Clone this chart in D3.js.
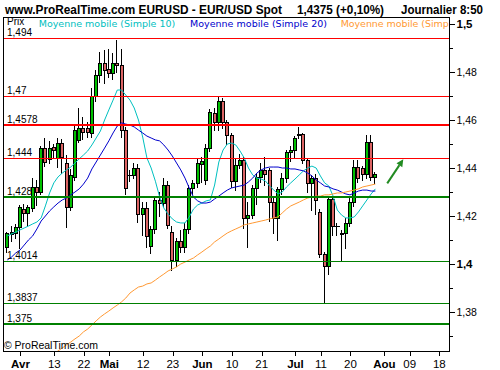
<!DOCTYPE html>
<html><head><meta charset="utf-8">
<script src="https://cdn.jsdelivr.net/npm/d3@7"></script>
<style>body{margin:0;background:#fff}svg{display:block}</style>
</head><body><svg id="c" width="500" height="370"></svg>
<script>
// ---------- DATA ----------
const dates = ["03-29","03-30","03-31","04-01","04-04","04-05","04-06","04-07","04-08","04-11","04-12","04-13","04-14","04-15","04-18","04-19","04-20","04-21","04-22","04-25","04-26","04-27","04-28","04-29","05-02","05-03","05-04","05-05","05-06","05-09","05-10","05-11","05-12","05-13","05-16","05-17","05-18","05-19","05-20","05-23","05-24","05-25","05-26","05-27","05-30","05-31","06-01","06-02","06-03","06-06","06-07","06-08","06-09","06-10","06-13","06-14","06-15","06-16","06-17","06-20","06-21","06-22","06-23","06-24","06-27","06-28","06-29","06-30","07-01","07-04","07-05","07-06","07-07","07-08","07-11","07-12","07-13","07-14","07-15","07-18","07-19","07-20","07-21","07-22","07-25","07-26","07-27","07-28"];
const open = [1.4072,1.4125,1.4130,1.4155,1.4228,1.4211,1.4232,1.4322,1.4301,1.4482,
1.4437,1.4487,1.4440,1.4503,1.4420,1.4236,1.4364,1.4517,1.4565,1.4565,
1.4547,1.4700,1.4788,1.4839,1.4811,1.4797,1.4839,1.4829,1.4558,1.4371,
1.4371,1.4399,1.4208,1.4232,1.4075,1.4144,1.4267,1.4255,1.4329,1.4135,
1.4017,1.4096,1.4072,1.4144,1.4315,1.4336,1.4415,1.4350,1.4482,1.4628,
1.4593,1.4679,1.4593,1.4537,1.4345,1.4412,1.4433,1.4190,1.4204,1.4315,
1.4364,1.4392,1.4392,1.4260,1.4190,1.4311,1.4357,1.4465,1.4475,1.4540,
1.4540,1.4433,1.4336,1.4360,1.4218,1.4042,1.3992,1.4269,1.4158,1.4128,
1.4128,1.4170,1.4260,1.4405,1.4401,1.4375,1.4507,1.4361];
const high = [1.4135,1.4160,1.4165,1.4245,1.4250,1.4245,1.4357,1.4350,1.4490,1.4524,
1.4514,1.4500,1.4524,1.4520,1.4454,1.4395,1.4580,1.4649,1.4614,1.4590,
1.4733,1.4810,1.4885,1.4890,1.4895,1.4880,1.4933,1.4896,1.4570,1.4392,
1.4422,1.4417,1.4260,1.4260,1.4160,1.4280,1.4300,1.4360,1.4345,1.4160,
1.4110,1.4140,1.4170,1.4330,1.4350,1.4440,1.4445,1.4500,1.4645,1.4650,
1.4694,1.4690,1.4600,1.4545,1.4440,1.4460,1.4445,1.4260,1.4330,1.4380,
1.4420,1.4447,1.4400,1.4280,1.4320,1.4380,1.4475,1.4490,1.4535,1.4572,
1.4545,1.4440,1.4370,1.4375,1.4228,1.4050,1.4275,1.4280,1.4170,1.4140,
1.4190,1.4275,1.4433,1.4433,1.4410,1.4537,1.4537,1.4385];
const low = [1.4051,1.4095,1.4110,1.4065,1.4180,1.4160,1.4220,1.4246,1.4290,1.4410,
1.4420,1.4440,1.4405,1.4380,1.4155,1.4225,1.4350,1.4510,1.4520,1.4530,
1.4530,1.4680,1.4760,1.4755,1.4780,1.4770,1.4800,1.4530,1.4290,1.4345,
1.4360,1.4176,1.4120,1.4072,1.4047,1.4130,1.4200,1.4240,1.4150,1.3975,
1.3990,1.4050,1.4050,1.4130,1.4290,1.4320,1.4340,1.4335,1.4470,1.4558,
1.4558,1.4565,1.4500,1.4320,1.4310,1.4400,1.4150,1.4072,1.4190,1.4250,
1.4340,1.4330,1.4180,1.4130,1.4100,1.4290,1.4340,1.4430,1.4440,1.4525,
1.4420,1.4300,1.4225,1.4208,1.4030,1.3839,1.3960,1.4120,1.4120,1.4017,
1.4068,1.4160,1.4240,1.4340,1.4350,1.4360,1.4350,1.4336];
const close = [1.4128,1.4132,1.4155,1.4236,1.4211,1.4236,1.4322,1.4301,1.4482,1.4426,
1.4482,1.4476,1.4503,1.4447,1.4236,1.4370,1.4558,1.4565,1.4551,1.4551,
1.4700,1.4788,1.4839,1.4808,1.4797,1.4839,1.4829,1.4560,1.4315,1.4372,
1.4399,1.4208,1.4232,1.4117,1.4144,1.4267,1.4255,1.4329,1.4163,1.4017,
1.4096,1.4072,1.4144,1.4315,1.4336,1.4420,1.4430,1.4482,1.4635,1.4593,
1.4679,1.4593,1.4537,1.4345,1.4412,1.4433,1.4190,1.4204,1.4315,1.4364,
1.4390,1.4375,1.4260,1.4190,1.4311,1.4357,1.4465,1.4475,1.4524,1.4539,
1.4433,1.4336,1.4360,1.4267,1.4042,1.3992,1.4269,1.4158,1.4157,1.4125,
1.4170,1.4260,1.4405,1.4357,1.4375,1.4507,1.4361,1.4374];
const ma10 = [1.4117,1.4125,1.4133,1.4142,1.4150,1.4158,1.4167,1.4175,1.4192,1.4242,
1.4296,1.4338,1.4363,1.4379,1.4392,1.4404,1.4421,1.4438,1.4454,1.4471,
1.4496,1.4525,1.4554,1.4600,1.4642,1.4683,1.4725,1.4725,1.4704,1.4683,
1.4650,1.4600,1.4529,1.4442,1.4400,1.4345,1.4280,1.4233,1.4208,1.4188,
1.4175,1.4171,1.4171,1.4196,1.4229,1.4246,1.4254,1.4263,1.4267,1.4329,
1.4425,1.4475,1.4500,1.4504,1.4496,1.4471,1.4442,1.4400,1.4371,1.4358,
1.4354,1.4346,1.4325,1.4308,1.4292,1.4300,1.4321,1.4338,1.4354,1.4371,
1.4388,1.4400,1.4408,1.4400,1.4367,1.4338,1.4325,1.4283,1.4225,1.4204,
1.4192,1.4192,1.4196,1.4217,1.4242,1.4267,1.4292,1.4313];
const ma20 = [1.4017,1.4029,1.4046,1.4058,1.4079,1.4100,1.4117,1.4146,1.4179,1.4200,
1.4221,1.4238,1.4254,1.4267,1.4275,1.4288,1.4300,1.4313,1.4333,1.4358,
1.4396,1.4425,1.4454,1.4483,1.4513,1.4546,1.4575,1.4588,1.4583,1.4579,
1.4571,1.4558,1.4546,1.4533,1.4525,1.4517,1.4513,1.4496,1.4475,1.4450,
1.4421,1.4392,1.4358,1.4317,1.4279,1.4263,1.4254,1.4254,1.4258,1.4271,
1.4283,1.4296,1.4308,1.4317,1.4321,1.4325,1.4329,1.4342,1.4358,1.4379,
1.4392,1.4400,1.4404,1.4404,1.4404,1.4400,1.4400,1.4396,1.4396,1.4392,
1.4388,1.4379,1.4367,1.4350,1.4338,1.4325,1.4321,1.4313,1.4308,1.4300,
1.4292,1.4288,1.4296,1.4304,1.4308,1.4308,1.4304,1.4304];
const maLong = [null,null,null,null,null,null,null,null,null,null,
null,1.3625,1.3638,1.3650,1.3663,1.3675,1.3688,1.3700,1.3717,1.3729,
1.3746,1.3763,1.3779,1.3792,1.3804,1.3817,1.3829,1.3842,1.3858,1.3879,
1.3892,1.3904,1.3908,1.3917,1.3921,1.3933,1.3946,1.3958,1.3971,1.3979,
1.3988,1.4000,1.4008,1.4017,1.4025,1.4038,1.4050,1.4063,1.4075,1.4092,
1.4104,1.4117,1.4129,1.4138,1.4146,1.4154,1.4163,1.4167,1.4171,1.4175,
1.4179,1.4183,1.4188,1.4192,1.4196,1.4213,1.4229,1.4242,1.4250,1.4258,
1.4267,1.4275,1.4279,1.4283,1.4283,1.4288,1.4288,1.4292,1.4296,1.4296,
1.4300,1.4304,1.4308,1.4313,1.4321,1.4325,1.4329,1.4333];
const maNames = ["Moyenne mobile (Simple 10)","Moyenne mobile (Simple 20)","Moyenne mobile (Simp"];
const levels = [1.494,1.47,1.4578,1.444,1.428,1.4014,1.3837,1.375];
const levelLabels = ["1,494","1,47","1,4578","1,444","1,428","1,4014","1,3837","1,375"];
const xTickIdx = [3,11,18,24,32,39,46,53,60,68,74,81,89,95,102];
const xTickLabels = ["Avr","13","22","Mai","12","23","Jun","10","21","Jul","11","20","Aou","09","18"];
const monthTicks = ["Avr","Mai","Jun","Jul","Aou"];
const yMajor = [1.38,1.40,1.42,1.44,1.46,1.48,1.50];
const yMinor = [1.37,1.39,1.41,1.43,1.45,1.47,1.49];
const arrowFrom = [89.8,1.4336], arrowTo = [93.6,1.4436];
const titleParts = ["www.ProRealTime.com EURUSD - EUR/USD Spot","1,4375 (+0,10%)","Journalier  8:50"];

// ---------- LAYOUT / STYLE ----------
const L=3,R=449,T=17,B=351;
const svg=d3.select("#c");
const x=d3.scaleLinear().domain([-1.016,104.4]).range([L,R]);
const y=d3.scaleLinear().domain([1.36375,1.50292]).range([B,T]);
const ARIAL="Liberation Sans, Arial, sans-serif";
const VERD="DejaVu Sans, Verdana, sans-serif";
const maColors=["#00c0c0","#0000cc","#ff9933"];
const levelColor=v=>v>1.435?"#ff0000":"#008000";
const levelWidth=v=>(v===1.4578||v===1.428||v===1.375)?2:1;

svg.append("rect").attr("width",500).attr("height",370).attr("fill","#fff");
svg.append("defs").append("clipPath").attr("id","plot").append("rect")
  .attr("x",L).attr("y",T).attr("width",R-L).attr("height",B-T);
const g=svg.append("g").attr("clip-path","url(#plot)");

// candles
const idx=d3.range(dates.length);
const cg=g.append("g").attr("shape-rendering","crispEdges");
idx.forEach(i=>{
  const px=Math.round(x(i))-2;
  const yH=Math.round(y(high[i])), yL=Math.round(y(low[i]));
  cg.append("line").attr("x1",px+1.5).attr("x2",px+1.5).attr("y1",yH).attr("y2",yL+1)
    .attr("stroke","#000").attr("stroke-width",1);
  const yT=Math.round(y(Math.max(open[i],close[i]))), yB=Math.round(y(Math.min(open[i],close[i])));
  const up=close[i]>=open[i];
  if(yB-yT<1){
    cg.append("line").attr("x1",px-0.5).attr("x2",px+4.5).attr("y1",yT+0.5).attr("y2",yT+0.5)
      .attr("stroke","#000").attr("stroke-width",1);
  } else {
    cg.append("rect").attr("x",px+0.5).attr("y",yT+0.5).attr("width",3).attr("height",yB-yT)
      .attr("fill",up?"#00c000":"#dc6464").attr("stroke","#000").attr("stroke-width",1);
  }
});

// moving averages
[ma10,ma20,maLong].forEach((arr,j)=>{
  g.append("path").datum(idx)
   .attr("d",d3.line().defined(i=>arr[i]!=null).x(i=>x(i)).y(i=>y(arr[i])))
   .attr("fill","none").attr("stroke",maColors[j]).attr("stroke-width",1);
});

// level lines
levels.forEach((v,i)=>{
  const w=levelWidth(v);
  const yy=Math.round(y(v))+(w===1?0.5:0);
  g.append("line").attr("x1",L).attr("x2",R).attr("y1",yy).attr("y2",yy)
   .attr("stroke",levelColor(v)).attr("stroke-width",w).attr("shape-rendering","crispEdges");
  g.append("text").attr("x",7).attr("y",Math.round(y(v))-2).text(levelLabels[i])
   .attr("font-family",ARIAL).attr("font-size",10).attr("fill","#000");
});

// arrow
const ax1=x(arrowFrom[0]),ay1=y(arrowFrom[1]),ax2=x(arrowTo[0]),ay2=y(arrowTo[1]);
const ang=Math.atan2(ay2-ay1,ax2-ax1);
const hl=7,hw=3.5;
const bx=ax2-hl*Math.cos(ang),by=ay2-hl*Math.sin(ang);
g.append("line").attr("x1",ax1).attr("y1",ay1).attr("x2",bx).attr("y2",by)
  .attr("stroke","#228b22").attr("stroke-width",2);
g.append("path").attr("d",`M${ax2},${ay2}L${bx-hw*Math.sin(ang)},${by+hw*Math.cos(ang)}L${bx+hw*Math.sin(ang)},${by-hw*Math.cos(ang)}Z`)
  .attr("fill","#228b22");

// legend
g.append("text").attr("x",7).attr("y",25).text("Prix").attr("font-family",ARIAL).attr("font-size",10).attr("fill","#000");
const legX=[38.7,190,340.7], legW=[136.5,137,108];
maNames.forEach((t,j)=>{
  g.append("text").attr("x",legX[j]).attr("y",27).text(t)
   .attr("font-family",VERD).attr("font-size",9.5).attr("fill",maColors[j])
   .attr("textLength",legW[j]).attr("lengthAdjust","spacing");
});
g.append("text").attr("x",4).attr("y",349).text("© ProRealTime.com")
  .attr("font-family",ARIAL).attr("font-size",10.5).attr("fill","#000")
  .attr("textLength",94).attr("lengthAdjust","spacing");

// frame
const fr=svg.append("g").attr("shape-rendering","crispEdges").attr("stroke","#000").attr("stroke-width",1);
fr.append("line").attr("x1",L+0.5).attr("x2",L+0.5).attr("y1",T).attr("y2",B+1);
fr.append("line").attr("x1",L).attr("x2",R+1).attr("y1",T+0.5).attr("y2",T+0.5);
fr.append("line").attr("x1",L).attr("x2",R+1).attr("y1",B+0.5).attr("y2",B+0.5);
fr.append("line").attr("x1",R+0.5).attr("x2",R+0.5).attr("y1",T).attr("y2",B+1);

// right axis
const fmt=d=>String(+d.toFixed(2)).replace(".",",");
const ya=svg.append("g").attr("transform",`translate(${R+0.5},0)`)
  .call(d3.axisRight(y).tickValues(yMajor).tickSize(5).tickPadding(2).tickFormat(fmt));
ya.select(".domain").remove();
ya.selectAll("line").attr("shape-rendering","crispEdges");
ya.selectAll("text").attr("font-family",ARIAL).attr("font-size",d=>(d===1.5||d===1.4)?11.5:10.5)
  .attr("font-weight",d=>(d===1.5||d===1.4)?"bold":"normal").attr("fill","#000");
const ym=svg.append("g").attr("transform",`translate(${R+0.5},0)`)
  .call(d3.axisRight(y).tickValues(yMinor).tickSize(3).tickFormat(""));
ym.select(".domain").remove();
ym.selectAll("line").attr("shape-rendering","crispEdges");

// bottom axis
const xa=svg.append("g").attr("transform",`translate(0,${B+0.5})`)
  .call(d3.axisBottom(x).tickValues(xTickIdx).tickSize(4).tickPadding(4).tickFormat((d,i)=>xTickLabels[i]));
xa.select(".domain").remove();
xa.selectAll("line").attr("shape-rendering","crispEdges").attr("transform","translate(0.5,0)");
xa.selectAll("text").attr("font-family",ARIAL).attr("font-size",11.5).attr("fill","#000")
  .attr("font-weight",(d,i)=>monthTicks.includes(xTickLabels[i])?"bold":"normal");

// title
const tX=[5,297,401], tW=[277,87,82];
titleParts.forEach((t,i)=>{
  svg.append("text").attr("x",tX[i]).attr("y",13.5).text(t).attr("font-family",ARIAL)
   .attr("font-weight","bold").attr("font-size",12).attr("fill","#000")
   .attr("textLength",tW[i]).attr("lengthAdjust","spacingAndGlyphs");
});
</script></body></html>
